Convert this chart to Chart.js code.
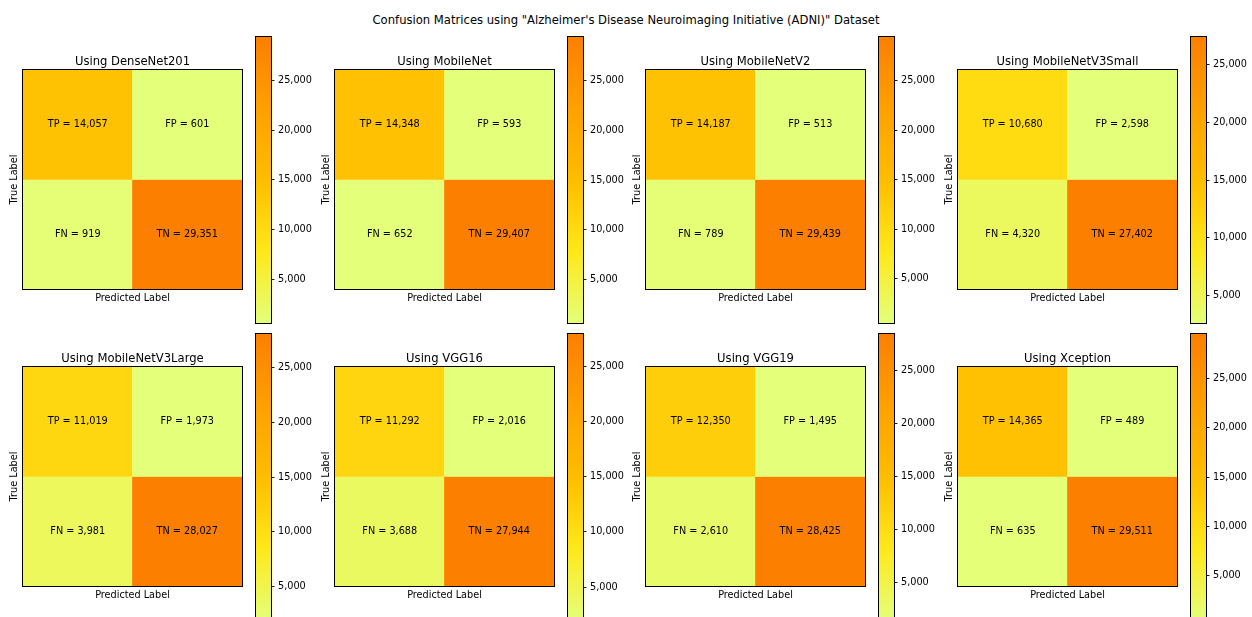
<!DOCTYPE html>
<html>
<head>
<meta charset="utf-8">
<title>Confusion Matrices – ADNI</title>
<script src="https://cdn.jsdelivr.net/npm/chart.js@4.4.1/dist/chart.umd.min.js"></script>
<style>
  html, body { margin: 0; padding: 0; background: #fff; overflow: hidden; }
  #fig { position: relative; width: 1252px; height: 617px; overflow: hidden; background: #fff; }
  #fig canvas { position: absolute; }
  #suptitle {
    position: absolute; left: 0; top: 12px; width: 1252px; height: 16px;
    line-height: 16px; text-align: center; color: #000;
    font-family: "DejaVu Sans", sans-serif; font-size: 11.6px; white-space: nowrap;
  }
</style>
</head>
<body>
<div id="fig">
  <div id="suptitle">Confusion Matrices using "Alzheimer's Disease Neuroimaging Initiative (ADNI)" Dataset</div>
</div>
<script>
// ---- data: one entry per model ----
const models = ['DenseNet201', 'MobileNet', 'MobileNetV2', 'MobileNetV3Small',
                'MobileNetV3Large', 'VGG16', 'VGG19', 'Xception'];
const truePos  = [14057, 14348, 14187, 10680, 11019, 11292, 12350, 14365];
const falsePos = [  601,   593,   513,  2598,  1973,  2016,  1495,   489];
const falseNeg = [  919,   652,   789,  4320,  3981,  3688,  2610,   635];
const trueNeg  = [29351, 29407, 29439, 27402, 28027, 27944, 28425, 29511];

const cellNames = [['TP', 'FP'], ['FN', 'TN']];
const predictedClasses = ['Positive', 'Negative'];
const colorbarTicks = [5000, 10000, 15000, 20000, 25000];

// ---- layout (pixels) ----
const COLS = 4;
const CELL = 219;                    // side of each matrix plot area
const COL_STEP = 311.67;
const MATRIX_LEFT0 = 23, CBAR_LEFT0 = 256;
const MATRIX_TOP = [70, 367];
const CBAR_TOP = [37, 334];
const CBAR_W = 15, CBAR_H = 286;
const BASE_FONT = 9.7, TITLE_FONT = 11.6;
const FONT_FAMILY = '"DejaVu Sans", sans-serif';

Chart.defaults.font.family = FONT_FAMILY;
Chart.defaults.font.size = BASE_FONT;
Chart.defaults.color = '#000';

// Wistia colour map stops
const WISTIA = [
  [0.00, [228, 255, 122]],
  [0.25, [255, 232, 26]],
  [0.50, [255, 189, 0]],
  [0.75, [255, 160, 0]],
  [1.00, [252, 127, 0]]
];
function wistia(t) {
  t = Math.max(0, Math.min(1, t));
  for (let i = 1; i < WISTIA.length; i++) {
    if (t <= WISTIA[i][0]) {
      const [t0, c0] = WISTIA[i - 1], [t1, c1] = WISTIA[i];
      const f = (t - t0) / (t1 - t0);
      return 'rgb(' + c0.map((v, k) => Math.round(v + (c1[k] - v) * f)).join(',') + ')';
    }
  }
  return 'rgb(252,127,0)';
}
const fmt = v => Number(v).toLocaleString('en-US');

const fig = document.getElementById('fig');

// frame, title, axis labels and cell annotations for a matrix panel
const matrixDecor = {
  id: 'matrixDecor',
  afterDraw(chart, args, opts) {
    const { ctx, chartArea: a } = chart;
    ctx.save();
    // cell annotations
    ctx.fillStyle = '#000';
    ctx.textAlign = 'center';
    ctx.textBaseline = 'middle';
    ctx.font = BASE_FONT + 'px ' + FONT_FAMILY;
    chart.data.datasets.forEach((ds, d) => {
      const meta = chart.getDatasetMeta(d);
      meta.data.forEach((el, i) => {
        const yMid = (el.y + el.base) / 2;
        ctx.fillText(cellNames[d][i] + ' = ' + fmt(ds.counts[i]), el.x, yMid);
      });
    });
    // frame
    ctx.strokeStyle = '#000';
    ctx.lineWidth = 1;
    ctx.strokeRect(a.left - 0.5, a.top - 0.5, a.width + 1, a.height + 1);
    // title
    const cx = (a.left + a.right) / 2;
    ctx.textBaseline = 'alphabetic';
    ctx.font = TITLE_FONT + 'px ' + FONT_FAMILY;
    ctx.fillText(opts.title, cx, a.top - 5.3);
    // x label
    ctx.font = BASE_FONT + 'px ' + FONT_FAMILY;
    ctx.fillText('Predicted Label', cx, a.bottom + 11.5);
    // y label
    ctx.translate(a.left - 5.7, (a.top + a.bottom) / 2);
    ctx.rotate(-Math.PI / 2);
    ctx.fillText('True Label', 0, 0);
    ctx.restore();
  }
};

// outline around the colour bar
const cbarOutline = {
  id: 'cbarOutline',
  afterDraw(chart) {
    const { ctx, chartArea: a } = chart;
    ctx.save();
    ctx.strokeStyle = '#000';
    ctx.lineWidth = 1;
    ctx.strokeRect(a.left - 0.5, a.top - 0.5, a.width + 1, a.height + 1);
    ctx.restore();
  }
};

function addCanvas(left, top, w, h) {
  const c = document.createElement('canvas');
  c.width = w; c.height = h;
  c.style.left = left + 'px'; c.style.top = top + 'px';
  c.style.width = w + 'px'; c.style.height = h + 'px';
  fig.appendChild(c);
  return c;
}

function drawMatrix(idx, left, top) {
  const m = [[truePos[idx], falsePos[idx]], [falseNeg[idx], trueNeg[idx]]];
  const flat = m.flat();
  const vmin = Math.min(...flat), vmax = Math.max(...flat);
  const PAD = { left: 23, top: 40, right: 6, bottom: 22 };
  const canvas = addCanvas(left - PAD.left, top - PAD.top,
                           PAD.left + CELL + PAD.right, PAD.top + CELL + PAD.bottom);
  new Chart(canvas, {
    type: 'bar',
    data: {
      labels: predictedClasses,
      datasets: m.map((row, r) => ({
        label: r === 0 ? 'Actual positive' : 'Actual negative',
        counts: row,
        // row 0 occupies the upper half of the grid, row 1 the lower half
        data: row.map(() => (r === 0 ? [1, 2] : [0, 1])),
        backgroundColor: row.map(v => wistia((v - vmin) / (vmax - vmin))),
        borderWidth: 0,
        barPercentage: 1,
        categoryPercentage: 1,
        grouped: false
      }))
    },
    options: {
      responsive: false,
      animation: false,
      devicePixelRatio: 1,
      layout: { padding: PAD },
      plugins: {
        legend: { display: false },
        tooltip: { enabled: false },
        title: { display: false },
        matrixDecor: { title: 'Using ' + models[idx] }
      },
      scales: {
        x: { display: false },
        y: { display: false, min: 0, max: 2 }
      }
    },
    plugins: [matrixDecor]
  });
}

function drawColorbar(idx, left, top) {
  const flat = [truePos[idx], falsePos[idx], falseNeg[idx], trueNeg[idx]];
  const vmin = Math.min(...flat), vmax = Math.max(...flat);
  const AXIS_W = 50;
  const PAD = { left: 2, top: 12, right: 0, bottom: 12 };
  const canvas = addCanvas(left - PAD.left, top - PAD.top,
                           PAD.left + CBAR_W + AXIS_W + PAD.right, PAD.top + CBAR_H + PAD.bottom);
  new Chart(canvas, {
    type: 'bar',
    data: {
      labels: ['count'],
      datasets: [{
        data: [[vmin, vmax]],
        backgroundColor: (c) => {
          const a = c.chart.chartArea;
          if (!a) return 'rgba(0,0,0,0)';
          const g = c.chart.ctx.createLinearGradient(0, a.bottom, 0, a.top);
          WISTIA.forEach(([t, rgb]) => g.addColorStop(t, 'rgb(' + rgb.join(',') + ')'));
          return g;
        },
        borderWidth: 0,
        barPercentage: 1,
        categoryPercentage: 1
      }]
    },
    options: {
      responsive: false,
      animation: false,
      devicePixelRatio: 1,
      layout: { padding: PAD },
      plugins: { legend: { display: false }, tooltip: { enabled: false } },
      scales: {
        x: { display: false },
        y: {
          position: 'right',
          min: vmin,
          max: vmax,
          afterBuildTicks: s => {
            s.ticks = colorbarTicks.filter(v => v >= vmin && v <= vmax).map(v => ({ value: v }));
          },
          afterFit: s => { s.width = AXIS_W; },
          border: { display: false },
          grid: { drawOnChartArea: false, drawTicks: true, tickLength: 3.5, color: '#000', lineWidth: 0.9 },
          ticks: { padding: 3.5, color: '#000', font: { size: BASE_FONT }, callback: v => fmt(v) }
        }
      }
    },
    plugins: [cbarOutline]
  });
}

models.forEach((name, i) => {
  const row = Math.floor(i / COLS), col = i % COLS;
  drawMatrix(i, Math.round(MATRIX_LEFT0 + col * COL_STEP), MATRIX_TOP[row]);
  drawColorbar(i, Math.round(CBAR_LEFT0 + col * COL_STEP), CBAR_TOP[row]);
});
</script>
</body>
</html>
